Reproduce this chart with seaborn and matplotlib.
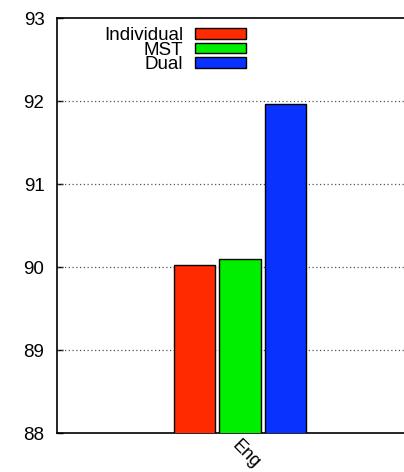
import matplotlib
matplotlib.use('Agg')
import matplotlib.pyplot as plt
import numpy as np
import pandas as pd
import seaborn as sns

# data
categories = ['Eng']
methods = ['Individual', 'MST', 'Dual']
scores = [90.02, 90.10, 91.96]
colors = ['#ff2a00', '#00ee00', '#0a32ff']

df = pd.DataFrame({'lang': categories * len(methods),
                   'method': methods,
                   'score': scores})

sns.set_style('white')
plt.rcParams['font.family'] = ['Liberation Sans', 'DejaVu Sans']
plt.rcParams['text.color'] = 'black'
plt.rcParams['xtick.color'] = 'black'
plt.rcParams['ytick.color'] = 'black'

fig = plt.figure(figsize=(4.04, 4.72), dpi=100)
ax = fig.add_axes([57/404, 1 - 433/472, (404 - 57)/404, (433 - 18)/472])

sns.barplot(data=df, x='lang', y='score', hue='method', palette=colors,
            width=0.8, gap=0.09, edgecolor='black', linewidth=1.0,
            saturation=1, ax=ax, zorder=3)

ax.set_ylim(88, 93)
ax.set_yticks([88, 89, 90, 91, 92, 93])
ax.set_xlim(-1.073, 0.961)
ax.set_xlabel('')
ax.set_ylabel('')
ax.tick_params(axis='y', direction='in', length=4, width=1, labelsize=13.5, pad=9, left=True)
ax.tick_params(axis='x', length=0, labelsize=13, pad=3)
for lab in ax.get_xticklabels():
    lab.set_rotation(-45)
    lab.set_ha('left')
    lab.set_va('top')
    lab.set_rotation_mode('anchor')

for y in [89, 90, 91, 92]:
    ax.axhline(y, color='#555555', linestyle=(0, (1, 2)), linewidth=0.9, zorder=1)

for side in ['left', 'bottom', 'top']:
    ax.spines[side].set_color('black')
    ax.spines[side].set_linewidth(1.2)
ax.spines['right'].set_visible(False)

leg = ax.legend(loc='upper left', bbox_to_anchor=(0.097, 1.01), frameon=False,
                markerfirst=False, fontsize=13.5, handlelength=2.7, handleheight=0.5,
                labelspacing=-0.12, handletextpad=0.65, borderaxespad=0.3)
for t in leg.get_texts():
    t.set_ha('right')
    t.set_color('black')

plt.savefig('out.png', dpi=100)
